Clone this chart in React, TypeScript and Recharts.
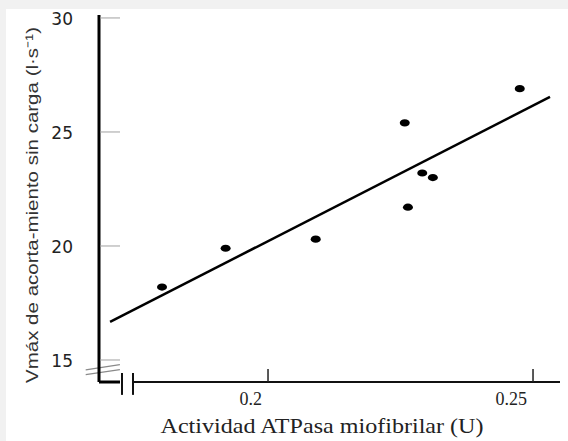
import React from 'react';
import { ComposedChart, Scatter, XAxis, YAxis, ReferenceLine, Label } from 'recharts';

// Data
const atpase = [0.180, 0.192, 0.209, 0.2258, 0.2264, 0.2291, 0.2311, 0.2475];
const vmax = [18.2, 19.9, 20.3, 25.4, 21.7, 23.2, 23.0, 26.9];
const fitX = [0.1702, 0.2532];
const fitY = [16.67, 26.54];
const xTicks = [0.2, 0.25];
const xTickLabels = ['0.2', '0.25'];
const yTicks = [15, 20, 25, 30];

const points = atpase.map((x, i) => ({ x, y: vmax[i] }));
const fitData = fitX.map((x, i) => ({ x, y: fitY[i] }));

const X_DOMAIN: [number, number] = [0.16811, 0.25509];
const Y_DOMAIN: [number, number] = [14.035, 30.13];

// axis decoration positions (data coordinates)
const X_BREAK_A = 0.17245;
const X_BREAK_B = 0.17453;
const X_BREAK_LEFT = 0.1689;
const Y_AXIS_BOTTOM = 14.035;

const YTick = (props: any) => {
  const { x, y, payload } = props;
  return (
    <g>
      <line x1={x + 1} x2={x + 21} y1={y} y2={y} stroke="#a0a0a0" strokeWidth={1} />
      <text x={x - 26} y={y} dy={7} textAnchor="end" fontFamily="DejaVu Sans" fontSize={17} fill="#222">
        {payload.value}
      </text>
    </g>
  );
};

const XTick = (props: any) => {
  const { x, y, payload, index } = props;
  return (
    <g>
      <line x1={x} x2={x} y1={y} y2={y - 13} stroke="#222" strokeWidth={1.5} />
      <text x={x - 6} y={y + 23} textAnchor="end" fontFamily="Liberation Serif" fontSize={18} fill="#222">
        {xTickLabels[index] ?? payload.value}
      </text>
    </g>
  );
};

const XTitle = (props: any) => {
  const vb = props.viewBox || { x: 99, y: 382, width: 461 };
  return (
    <text
      x={vb.x + 223}
      y={vb.y + 51}
      textAnchor="middle"
      fontFamily="Liberation Serif"
      fontSize={21}
      fill="#222"
      textLength={323}
      lengthAdjust="spacingAndGlyphs"
    >
      Actividad ATPasa miofibrilar (U)
    </text>
  );
};

const YTitle = () => (
  <text
    x={32}
    y={205}
    transform="rotate(-90 32 205)"
    textAnchor="middle"
    dominantBaseline="central"
    fontFamily="Liberation Sans"
    fontSize={17}
    fill="#333"
    textLength={356}
    lengthAdjust="spacingAndGlyphs"
  >
    Vmáx de acorta-miento sin carga (l·s⁻¹)
  </text>
);

const Dot = (props: any) => (
  <ellipse cx={props.cx} cy={props.cy} rx={5} ry={3.6} fill="#000" />
);

export default function App() {
  return (
    <div style={{ position: 'absolute', left: 0, top: 0, width: 568, height: 441, background: '#f1f1f1' }}>
      <div style={{ position: 'absolute', left: 6, top: 9, width: 562, height: 432, background: '#fff' }} />
      <div style={{ position: 'absolute', left: 0, top: 0 }}>
        <ComposedChart width={568} height={441} margin={{ top: 15, right: 8, left: 0, bottom: 0 }}>
          <XAxis
            type="number"
            dataKey="x"
            domain={X_DOMAIN}
            allowDataOverflow
            ticks={xTicks}
            axisLine={false}
            tickLine={false}
            tickSize={0}
            tickMargin={0}
            height={59}
            tick={<XTick />}
            label={<Label content={<XTitle />} />}
          />
          <YAxis
            type="number"
            dataKey="y"
            domain={Y_DOMAIN}
            allowDataOverflow
            ticks={yTicks}
            width={99}
            axisLine={{ stroke: '#000', strokeWidth: 3 }}
            tickLine={false}
            tickSize={0}
            tickMargin={0}
            tick={<YTick />}
            label={<Label content={<YTitle />} />}
          />
          {/* L corner and x axis with break */}
          <ReferenceLine
            segment={[{ x: X_DOMAIN[0], y: Y_AXIS_BOTTOM }, { x: 0.17207, y: Y_AXIS_BOTTOM }]}
            stroke="#000"
            strokeWidth={3}
            ifOverflow="visible"
          />
          <ReferenceLine
            segment={[{ x: X_BREAK_A, y: 14.43 }, { x: X_BREAK_A, y: 13.47 }]}
            stroke="#111"
            strokeWidth={2}
            ifOverflow="visible"
          />
          <ReferenceLine
            segment={[{ x: X_BREAK_B, y: 14.43 }, { x: X_BREAK_B, y: 13.47 }]}
            stroke="#111"
            strokeWidth={2}
            ifOverflow="visible"
          />
          <ReferenceLine
            segment={[{ x: X_BREAK_B, y: Y_AXIS_BOTTOM }, { x: X_DOMAIN[1], y: Y_AXIS_BOTTOM }]}
            stroke="#111"
            strokeWidth={2}
            ifOverflow="visible"
          />
          {/* y axis break marks */}
          <ReferenceLine
            segment={[{ x: X_BREAK_LEFT - 0.0033, y: 14.57 }, { x: X_BREAK_A - 0.0004, y: 14.8 }]}
            stroke="#8a8a8a"
            strokeWidth={1.2}
            ifOverflow="visible"
          />
          <ReferenceLine
            segment={[{ x: X_BREAK_LEFT - 0.0033, y: 14.36 }, { x: X_BREAK_A - 0.0004, y: 14.58 }]}
            stroke="#8a8a8a"
            strokeWidth={1.2}
            ifOverflow="visible"
          />
          <Scatter
            data={fitData}
            line={{ stroke: '#000', strokeWidth: 2.5 }}
            shape={() => <g />}
            isAnimationActive={false}
          />
          <Scatter data={points} shape={<Dot />} isAnimationActive={false} />
        </ComposedChart>
      </div>
    </div>
  );
}
